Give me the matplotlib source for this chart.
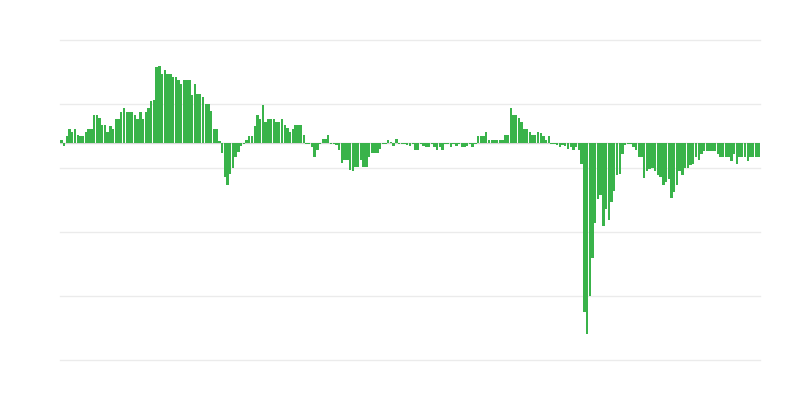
import matplotlib
matplotlib.use("Agg")
import matplotlib.pyplot as plt
import numpy as np

# Bar values (chart units; zero baseline), read left to right
seg_a = [3, -3.5, 7, 13.7, 10.3, 13.7, 7.7, 7, 6.7, 10.5,
         13.7, 13.7, 27.7, 27.7, 24.7, 17.7, 17.5, 10.5, 16.7, 13.7,
         24, 24, 30.7, 34.7, 31, 31, 30.7, 27.7, 23.7, 30.7,
         24, 30.7, 34.7, 41.7, 43, 75.6, 76.6, 69, 72.3, 69,
         69, 65.6, 65.6, 62.3, 59, 62.3, 62.3, 62.3, 48, 59]
seg_b = [48.3, 48.3, 45.7, 38.3, 38.3, 31.7, 13.7, 13.7, 2, -10,
         -34, -42, -31, -25, -14, -9, -3, -1, 3, 7,
         7, 17, 27.5, 24, 38, 21, 24, 23.5, 23.5, 21,
         21, 24, 17.7, 14.3, 11, 13.7, 17.7, 17.7, 17.7, 7.7,
         -1, -1, -4, -14, -7.3, -1, 3.7, 3.7, 7.7, -1]
seg_c = [-1, -2.3, -7.3, -20.7, -17.3, -17.3, -27.3, -28.3, -24.7, -24.7,
         -17.3, -24.3, -24, -14, -10.7, -10.7, -10.7, -6.7, -1, -1,
         2.5, 1, -3, 3.7, -1, -1, -1, -2, -3, -1,
         -7.3, -7.3, -1, -3, -4, -4, -1, -4, -7.3, -4,
         -7.3, -1, -1, -4, -1, -3.3, -1, -4, -4, -3.5]
seg_d = [-1, -4, -1, 6.7, 6.7, 6.7, 10.3, 2.7, 2.7, 2.7,
         2.7, 2.7, 2.7, 7.7, 7.7, 34.7, 27.7, 27.7, 24.7, 20.7,
         13.7, 13.7, 10.3, 8, 7.7, 10.3, 10, 7, 3, 6.5,
         -1, -1, -2, -4.3, -2, -3.7, -6, -4, -7.7, -4,
         -7.7, -21, -169, -191, -153, -115, -80, -56, -52.7, -83]
seg_e = [-66, -77, -59, -48, -32, -31, -11.7, -2, -1, -1.5,
         -4, -7, -14.5, -14.5, -35, -28, -26, -25, -28, -32,
         -34, -42, -39, -36, -55.5, -49, -42, -28, -32, -25,
         -25, -22, -21.5, -14.3, -17, -11, -8, -8, -8, -8,
         -8, -11.5, -14.5, -14.5, -14.5, -14.5, -18.7, -11.5, -21, -14.5,
         -14.5, -14.5, -18.7, -14.5, -14.5, -14.5, -14.5]

grid_values = [102.5, 38.5, -25.5, -89.5, -153.5, -217.5]

values = np.array(seg_a + seg_b + seg_c + seg_d + seg_e)
x = np.arange(len(values))

fig = plt.figure(figsize=(8, 4), dpi=100)
ax = fig.add_axes([0.075, 0.1, 0.875, 0.8])

for g in grid_values:
    ax.axhline(g, color="#ebebeb", linewidth=1, zorder=0, clip_on=False)
ax.axhline(0, color="#d8d8d8", linewidth=1, zorder=1)

ax.bar(x, values, width=0.88, color="#39b34a", linewidth=0, zorder=2,
       antialiased=False)

ax.set_xlim(-0.5, len(values) - 0.5)
ax.set_ylim(grid_values[-1], grid_values[0])
ax.set_xticks([])
ax.set_yticks([])
for s in ax.spines.values():
    s.set_visible(False)

fig.savefig("out.png", dpi=100, facecolor="white")
